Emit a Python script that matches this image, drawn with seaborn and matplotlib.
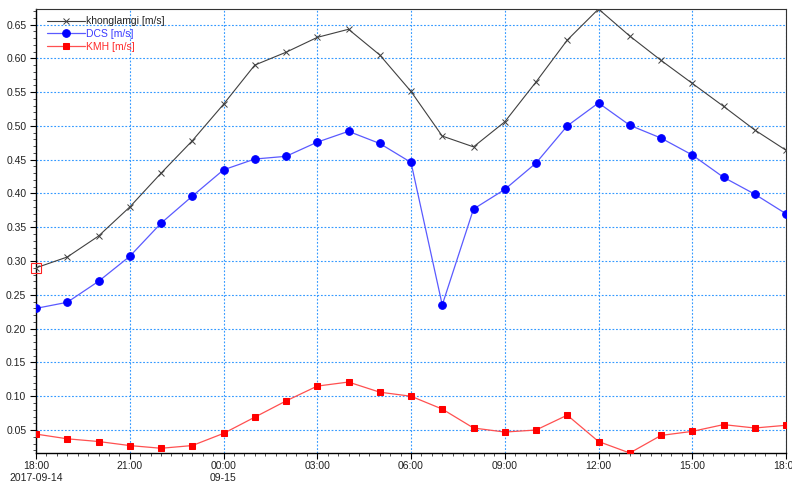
import matplotlib
matplotlib.use('Agg')
import matplotlib.pyplot as plt
import matplotlib.dates as mdates
import seaborn as sns
import pandas as pd

# hourly samples, 2017-09-14 18:00 -> 2017-09-15 18:00
times = pd.date_range('2017-09-14 18:00', '2017-09-15 18:00', freq='h')

khonglamgi = [0.290, 0.306, 0.337, 0.380, 0.430, 0.478, 0.532, 0.590, 0.609,
              0.631, 0.643, 0.605, 0.551, 0.485, 0.469, 0.506, 0.565, 0.627,
              0.673, 0.633, 0.597, 0.563, 0.529, 0.494, 0.464]
dcs = [0.230, 0.239, 0.270, 0.307, 0.356, 0.396, 0.435, 0.451, 0.455,
       0.476, 0.492, 0.474, 0.446, 0.235, 0.377, 0.406, 0.445, 0.500,
       0.534, 0.501, 0.482, 0.457, 0.424, 0.399, 0.370]
kmh = [0.044, 0.037, 0.033, 0.027, 0.023, 0.027, 0.045, 0.069, 0.093,
       0.115, 0.121, 0.106, 0.100, 0.081, 0.053, 0.047, 0.050, 0.072,
       0.033, 0.016, 0.042, 0.048, 0.058, 0.053, 0.057]

series_names = ['khonglamgi [m/s]', 'DCS [m/s]', 'KMH [m/s]']
x_tick_labels = ['18:00\n2017-09-14', '21:00', '00:00\n09-15', '03:00', '06:00',
                 '09:00', '12:00', '15:00', '18:00']

sns.set_style('white')
plt.rcParams['font.family'] = ['Liberation Sans', 'DejaVu Sans']
plt.rcParams['font.size'] = 7.5

fig = plt.figure(figsize=(7.92, 4.84), dpi=100)
ax = fig.add_axes([36 / 792, 1 - 453 / 484, 750 / 792, 444 / 484])

grid_color = '#3399ff'

sns.lineplot(x=times, y=khonglamgi, ax=ax, color='#404040', lw=0.8,
             marker='x', markersize=5, markeredgewidth=0.7,
             markeredgecolor='#404040', label=series_names[0], zorder=3)
sns.lineplot(x=times, y=dcs, ax=ax, color='#5a5aff', lw=0.9,
             marker='o', markersize=5.5, markerfacecolor='#0000ff',
             markeredgecolor='#0000ff', label=series_names[1], zorder=3)
sns.lineplot(x=times, y=kmh, ax=ax, color='#ff5050', lw=0.9,
             marker='s', markersize=5, markerfacecolor='#ff0000',
             markeredgecolor='#ff0000', label=series_names[2], zorder=3)

# highlighted first sample
ax.plot(times[:1], khonglamgi[:1], marker='s', markersize=6.5, mfc='none',
        mec='#ff2020', mew=0.8, ls='none', zorder=4, clip_on=False)

ax.set_xlim(times[0], times[-1])
ax.set_ylim(min(kmh), max(khonglamgi))

ax.set_xticks(pd.date_range(times[0], times[-1], freq='3h'))
ax.set_xticklabels(x_tick_labels, linespacing=1.15)
ax.xaxis.set_minor_locator(mdates.MinuteLocator(byminute=[0, 20, 40]))

ax.set_yticks([i / 100 for i in range(5, 70, 5)])
ax.set_yticks([i / 100 for i in range(2, 68)], minor=True)
ax.yaxis.set_major_formatter(plt.FormatStrFormatter('%.2f'))

ax.tick_params(axis='both', which='both', bottom=True, left=True,
               top=False, right=False)
ax.tick_params(axis='both', which='major', direction='out', length=4,
               width=0.8, colors='black', labelsize=7.5, labelcolor='#222222')
ax.tick_params(axis='both', which='minor', direction='out', length=2.5,
               width=0.6, colors='#333333')
ax.tick_params(axis='x', which='major', pad=2)
ax.tick_params(axis='y', which='major', pad=3)

ax.grid(True, which='major', color=grid_color, linestyle=(0, (1.6, 1.6)),
        linewidth=0.8, zorder=0)
ax.set_axisbelow(True)

for side in ['left', 'bottom']:
    ax.spines[side].set_color('black')
    ax.spines[side].set_linewidth(1.0)
for side in ['top', 'right']:
    ax.spines[side].set_color('#333333')
    ax.spines[side].set_linewidth(0.8)
    ax.spines[side].set_visible(True)

ax.set_xlabel('')
ax.set_ylabel('')

leg = ax.legend(loc='upper left', frameon=False, fontsize=7.5,
                handlelength=3.6, handletextpad=0.1, borderaxespad=0.3,
                labelspacing=0.25, bbox_to_anchor=(0.005, 1.0))
for text, col in zip(leg.get_texts(), ['#222222', '#3a3aff', '#ff2a2a']):
    text.set_color(col)

fig.savefig('out.png', dpi=100)
